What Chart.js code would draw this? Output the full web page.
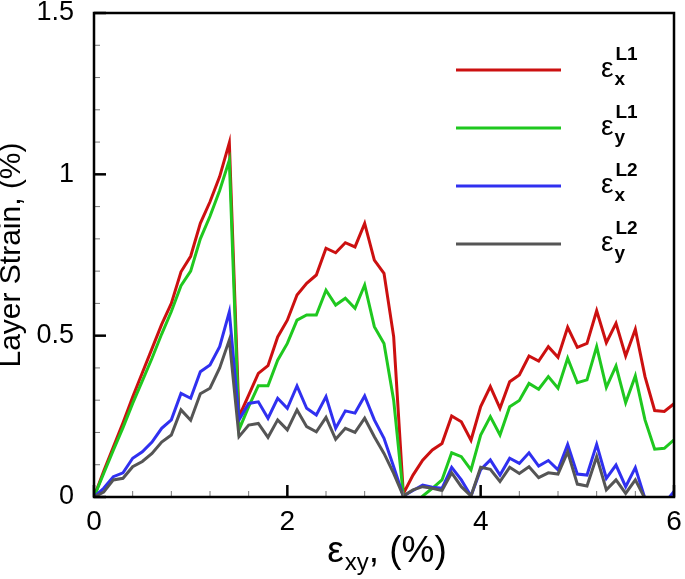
<!DOCTYPE html>
<html>
<head>
<meta charset="utf-8">
<script src="https://cdn.jsdelivr.net/npm/chart.js@4/dist/chart.umd.min.js"></script>
<style>
  html, body { margin: 0; padding: 0; background: #fff; }
  #wrap { width: 685px; height: 579px; }
</style>
</head>
<body>
<div id="wrap"><canvas id="c" width="685" height="579"></canvas></div>
<script>
// ---- data ----
const strainXY = [0.0,0.1,0.2,0.3,0.4,0.5,0.6,0.7,0.8,0.9,1.0,1.1,1.2,1.3,1.4,1.5,1.6,1.7,1.8,1.9,2.0,2.1,2.2,2.3,2.4,2.5,2.6,2.7,2.8,2.9,3.0,3.1,3.2,3.3,3.4,3.5,3.6,3.7,3.8,3.9,4.0,4.1,4.2,4.3,4.4,4.5,4.6,4.7,4.8,4.9,5.0,5.1,5.2,5.3,5.4,5.5,5.6,5.7,5.8,5.9,6.0];

const epsXL1 = [0,0.08,0.155,0.23,0.31,0.385,0.46,0.535,0.60,0.698,0.746,0.848,0.915,0.993,1.098,
  0.249,0.316,0.383,0.407,0.496,0.548,0.626,0.662,0.688,0.771,0.757,0.788,0.775,0.848,0.734,0.693,0.497,0.01,
  0.068,0.114,0.146,0.166,0.251,0.233,0.176,0.28,0.342,0.275,0.357,0.378,0.437,0.421,0.466,0.433,0.526,0.464,0.476,0.577,0.478,0.538,0.437,0.52,0.373,0.268,0.265,0.289];

const epsYL1 = [0,0.073,0.145,0.215,0.29,0.36,0.43,0.505,0.575,0.655,0.70,0.80,0.87,0.95,1.044,
  0.208,0.28,0.345,0.345,0.424,0.476,0.548,0.564,0.564,0.641,0.595,0.616,0.585,0.657,0.528,0.476,0.30,0.005,
  -0.03,0.003,0.027,0.053,0.137,0.125,0.084,0.192,0.249,0.192,0.28,0.299,0.352,0.334,0.373,0.337,0.43,0.354,0.363,0.466,0.34,0.406,0.292,0.375,0.239,0.148,0.151,0.177];

const epsXL2 = [0,0.027,0.063,0.075,0.12,0.14,0.17,0.213,0.239,0.321,0.306,0.388,0.409,0.466,0.574,
  0.239,0.29,0.295,0.244,0.306,0.275,0.344,0.275,0.254,0.311,0.213,0.267,0.26,0.313,0.239,0.182,0.094,0.003,
  0.02,0.037,0.03,0.027,0.092,0.053,0.003,0.085,0.115,0.068,0.12,0.104,0.137,0.096,0.113,0.084,0.163,0.071,0.068,0.163,0.058,0.099,0.032,0.091,-0.005,-0.03,-0.02,0.017];

const epsYL2 = [0,0.015,0.053,0.058,0.094,0.11,0.135,0.17,0.192,0.27,0.238,0.32,0.337,0.40,0.487,
  0.187,0.223,0.228,0.185,0.239,0.208,0.27,0.218,0.202,0.247,0.179,0.213,0.2,0.244,0.187,0.135,0.073,0.003,
  0.022,0.032,0.027,0.02,0.075,0.032,0.003,0.092,0.086,0.048,0.092,0.073,0.094,0.06,0.075,0.071,0.14,0.04,0.034,0.125,0.022,0.053,0.011,0.053,-0.005,-0.04,-0.05,-0.03];

const seriesSymbol = ['ε','ε','ε','ε'];
const seriesSub = ['x','y','x','y'];
const seriesSup = ['L1','L1','L2','L2'];
const seriesColors = ['#cc1010','#1fc81f','#3030f0','#555555'];

const xTickLabels = ['0','2','4','6'];
const yTickLabels = ['0','0.5','1','1.5'];
const xTitleMain = 'ε';
const xTitleSub = 'xy';
const xTitleTail = ', (%)';
const yTitle = 'Layer Strain, (%)';

const FONT = '"Liberation Sans", Arial, Helvetica, sans-serif';

function near(a, b) { return Math.abs(a - b) < 1e-6; }
function labelFor(list, v) {
  const hit = list.find(s => near(parseFloat(s), v));
  return hit === undefined ? '' : hit;
}

const frameTicks = {
  id: 'frameTicks',
  afterDraw(chart) {
    const { ctx, chartArea: a, scales } = chart;
    const xs = scales.x, ys = scales.y;
    ctx.save();
    ctx.lineCap = 'butt';
    xs.ticks.forEach(t => {
      const major = labelFor(xTickLabels, t.value) !== '';
      const px = xs.getPixelForValue(t.value);
      ctx.beginPath();
      ctx.lineWidth = major ? 2.5 : 1;
      ctx.strokeStyle = major ? '#000' : '#777';
      ctx.moveTo(px, a.bottom);
      ctx.lineTo(px, a.bottom - (major ? 12 : 6));
      ctx.stroke();
    });
    ys.ticks.forEach(t => {
      const major = labelFor(yTickLabels, t.value) !== '';
      const py = ys.getPixelForValue(t.value);
      ctx.beginPath();
      ctx.lineWidth = major ? 2.5 : 1;
      ctx.strokeStyle = major ? '#000' : '#777';
      ctx.moveTo(a.left, py);
      ctx.lineTo(a.left + (major ? 12 : 6), py);
      ctx.stroke();
    });
    ctx.lineWidth = 2.5;
    ctx.strokeStyle = '#000';
    ctx.strokeRect(a.left, a.top, a.right - a.left, a.bottom - a.top);

    // x-axis title with subscript
    const mainFont = '37px ' + FONT;
    const subFont = '24px ' + FONT;
    ctx.fillStyle = '#000';
    ctx.textBaseline = 'alphabetic';
    ctx.textAlign = 'left';
    ctx.font = mainFont; const w1 = ctx.measureText(xTitleMain).width;
    ctx.font = subFont; const w2 = ctx.measureText(xTitleSub).width;
    ctx.font = mainFont; const w3 = ctx.measureText(xTitleTail).width;
    const total = w1 + w2 + w3 + 1;
    let tx = (a.left + a.right) / 2 - total / 2 + 3;
    const base = a.bottom + 65;
    ctx.font = mainFont; ctx.fillText(xTitleMain, tx, base); tx += w1 + 1;
    ctx.font = subFont; ctx.fillText(xTitleSub, tx, base + 8); tx += w2;
    ctx.font = mainFont; ctx.fillText(xTitleTail, tx, base);
    ctx.restore();
  }
};

const richLegend = {
  id: 'richLegend',
  afterDraw(chart) {
    const { ctx, chartArea: a } = chart;
    ctx.save();
    chart.data.datasets.forEach((ds, i) => {
      const ly = a.top + 57 + i * 58;
      ctx.beginPath();
      ctx.strokeStyle = ds.borderColor;
      ctx.lineWidth = 3;
      ctx.moveTo(a.right - 218, ly);
      ctx.lineTo(a.right - 113, ly);
      ctx.stroke();
      ctx.fillStyle = '#000';
      ctx.textAlign = 'left';
      ctx.textBaseline = 'alphabetic';
      const sx = a.right - 73;
      ctx.font = '28px ' + FONT;
      ctx.fillText(ds.symbol, sx, ly + 7);
      const w = ctx.measureText(ds.symbol).width;
      ctx.font = 'bold 19px ' + FONT;
      ctx.fillText(ds.sub, sx + w + 1, ly + 15);
      ctx.fillText(ds.sup, sx + w + 2, ly - 10);
    });
    ctx.restore();
  }
};

const allSeries = [epsXL1, epsYL1, epsXL2, epsYL2];
const datasets = allSeries.map((vals, i) => ({
  label: seriesSymbol[i] + '_' + seriesSub[i] + '^' + seriesSup[i],
  symbol: seriesSymbol[i], sub: seriesSub[i], sup: seriesSup[i],
  data: strainXY.map((x, j) => ({ x: x, y: vals[j] })),
  borderColor: seriesColors[i],
  backgroundColor: seriesColors[i],
  borderWidth: 3,
  pointRadius: 0,
  tension: 0,
  fill: false,
  clip: 0,
  order: 4 - i
}));

new Chart(document.getElementById('c'), {
  type: 'line',
  data: { datasets },
  plugins: [frameTicks, richLegend],
  options: {
    responsive: false,
    animation: false,
    devicePixelRatio: 1,
    layout: { padding: { left: 0, top: 13, right: 11, bottom: 0 } },
    plugins: { legend: { display: false }, tooltip: { enabled: false } },
    scales: {
      x: {
        type: 'linear', min: 0, max: 6,
        grid: { display: false },
        border: { display: false },
        ticks: {
          stepSize: 0.4, autoSkip: false, maxRotation: 0, padding: 0,
          color: '#000', font: { family: FONT, size: 28 },
          callback: v => labelFor(xTickLabels, v)
        },
        afterFit: s => { s.height = 82; s.paddingLeft = 0; s.paddingRight = 0; }
      },
      y: {
        type: 'linear', min: 0, max: 1.5,
        grid: { display: false },
        border: { display: false },
        ticks: {
          stepSize: 0.1, autoSkip: false, padding: 12,
          color: '#000', font: { family: FONT, size: 27 },
          callback: v => labelFor(yTickLabels, v)
        },
        title: {
          display: true, text: yTitle, color: '#000',
          font: { family: FONT, size: 30, lineHeight: 0.8 }, padding: 0
        },
        afterFit: s => { s.width = 94; s.paddingTop = 0; s.paddingBottom = 0; }
      }
    }
  }
});
</script>
</body>
</html>
